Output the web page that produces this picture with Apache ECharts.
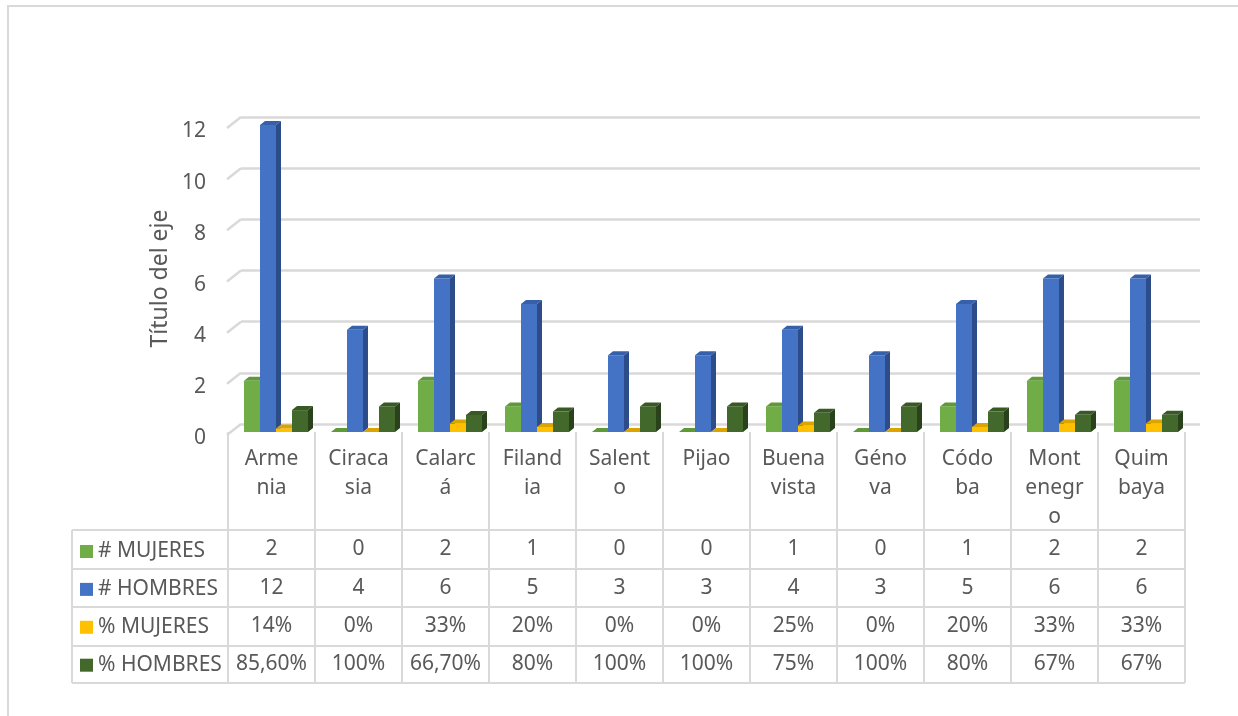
<!DOCTYPE html>
<html>
<head>
<meta charset="utf-8">
<script src="https://cdn.jsdelivr.net/npm/echarts@6/dist/echarts.min.js"></script>
<style>
html,body{margin:0;padding:0;background:#fff;}
#main{width:1238px;height:716px;}
</style>
</head>
<body>
<div id="main"></div>
<script>
// ---- data ----
const categoryLabels = ['Arme\nnia','Ciraca\nsia','Calarc\ná','Filand\nia','Salent\no','Pijao','Buena\nvista','Géno\nva','Códo\nba','Mont\nenegr\no','Quim\nbaya'];
const seriesNames = ['# MUJERES','# HOMBRES','% MUJERES','% HOMBRES'];
const mujeres = [2,0,2,1,0,0,1,0,1,2,2];
const hombres = [12,4,6,5,3,3,4,3,5,6,6];
const pctMujeres = [0.14,0,0.33,0.2,0,0,0.25,0,0.2,0.33,0.33];
const pctHombres = [0.856,1,0.667,0.8,1,1,0.75,1,0.8,0.67,0.67];
const pctMujeresText = ['14%','0%','33%','20%','0%','0%','25%','0%','20%','33%','33%'];
const pctHombresText = ['85,60%','100%','66,70%','80%','100%','100%','75%','100%','80%','67%','67%'];
const yTicks = {min:0, max:12, interval:2};

const FONT = 'Noto Sans';
const TXT = '#595959';
const LINE = '#d9d9d9';

const palette = [
  {front:'#70AD47', top:'#5e9a37', side:'#4b7a2c'},
  {front:'#4472C4', top:'#3760ab', side:'#2c4d8a'},
  {front:'#FFC000', top:'#dba400', side:'#b88a00'},
  {front:'#43682B', top:'#385824', side:'#2a421b'}
];
const allValues = [mujeres, hombres, pctMujeres, pctHombres];

function render3D(k) {
  const col = palette[k];
  return function (params, api) {
    const idx = api.value(0), v = api.value(1);
    const c = api.coord([idx, v]);
    const b = api.coord([idx, 0]);
    const bw = api.size([1, 0])[0];
    const x = c[0] - bw / 2 + bw * (16 + 16 * k) / 87;
    const w = bw * 16 / 87;
    const yT = c[1], yB = b[1];
    const dx = 5, dy = 4;
    return {
      type: 'group',
      children: [
        {type:'rect', shape:{x:x, y:yT, width:w, height:Math.max(0, yB - yT)}, style:{fill:col.front}},
        {type:'polygon', shape:{points:[[x,yT],[x+w,yT],[x+w+dx,yT-dy],[x+dx,yT-dy]]}, style:{fill:col.top}},
        {type:'polygon', shape:{points:[[x+w,yT],[x+w+dx,yT-dy],[x+w+dx,yB-dy],[x+w,yB]]}, style:{fill:col.side}}
      ]
    };
  };
}

const rowAxis = (data, offset) => ({
  type:'category', gridIndex:0, position:'bottom', offset:offset, data:data,
  axisLine:{show:false}, axisTick:{show:false}, splitLine:{show:false},
  axisLabel:{interval:0, margin:0, fontFamily:FONT, fontSize:21, lineHeight:21, color:TXT}
});

const chart = echarts.init(document.getElementById('main'), null, {renderer:'canvas'});
const option = {
  animation:false,
  backgroundColor:'#fff',
  grid:[
    {left:228, right:53, top:125, bottom:284},
    {left:241, right:38, top:117, bottom:292},
    {left:228, right:53, top:131.5, bottom:277.5}
  ],
  legend:{
    orient:'vertical', left:80, top:541, padding:0, itemWidth:13, itemHeight:13, itemGap:16.9,
    icon:'rect', selectedMode:false,
    data:seriesNames,
    textStyle:{fontFamily:FONT, fontSize:21, lineHeight:20, color:TXT}
  },
  xAxis:[
    {type:'category', gridIndex:0, data:categoryLabels, boundaryGap:true,
     axisLine:{show:false},
     axisTick:{show:true, length:251, lineStyle:{color:LINE, width:2}},
     axisLabel:{interval:0, margin:12.5, fontFamily:FONT, fontSize:21, lineHeight:29, color:TXT}},
    {type:'category', gridIndex:1, data:categoryLabels, show:false},
    rowAxis(mujeres.map(String), 106.5),
    rowAxis(hombres.map(String), 145.5),
    rowAxis(pctMujeresText, 183.5),
    rowAxis(pctHombresText, 221.5),
    {type:'category', gridIndex:2, data:categoryLabels, show:false}
  ],
  yAxis:[
    {type:'value', gridIndex:0, min:yTicks.min, max:yTicks.max, interval:yTicks.interval,
     axisLine:{show:false}, axisTick:{show:false}, splitLine:{show:false}, axisLabel:{show:false},
     name:'Título del eje', nameLocation:'middle', nameGap:56,
     nameTextStyle:{fontFamily:FONT, fontSize:23, color:TXT}},
    {type:'value', gridIndex:1, min:yTicks.min, max:yTicks.max, interval:yTicks.interval,
     axisLine:{show:false}, axisTick:{show:false}, axisLabel:{show:false},
     splitLine:{show:true, lineStyle:{color:LINE, width:2.5}}},
    {type:'value', gridIndex:2, min:yTicks.min, max:yTicks.max, interval:yTicks.interval,
     axisLine:{show:false}, axisTick:{show:false}, splitLine:{show:false},
     axisLabel:{margin:22, fontFamily:FONT, fontSize:21, color:TXT}}
  ],
  series: seriesNames.map((name, k) => ({
    name:name, type:'custom', xAxisIndex:0, yAxisIndex:0,
    itemStyle:{color:palette[k].front},
    renderItem: render3D(k),
    encode:{x:0, y:1},
    data: allValues[k].map((v, i) => [i, v])
  }))
};
chart.setOption(option);

// decorations computed from the library's scales
const g = [];
g.push({type:'rect', shape:{x:8, y:6, width:1400, height:900}, style:{fill:'none', stroke:LINE, lineWidth:2}, silent:true});
for (let v = yTicks.min; v <= yTicks.max; v += yTicks.interval) {
  const yf = chart.convertToPixel({yAxisIndex:0}, v);
  const yb = chart.convertToPixel({yAxisIndex:1}, v);
  g.push({type:'line', shape:{x1:227, y1:yf + 3, x2:241, y2:yb}, style:{stroke:LINE, lineWidth:2.5}, silent:true});
}
const x0 = chart.convertToPixel({xAxisIndex:0}, 0);
const xN = chart.convertToPixel({xAxisIndex:0}, categoryLabels.length - 1);
const band = (xN - x0) / (categoryLabels.length - 1);
const rightX = xN + band / 2;
const tableLeft = 72;
const rowLines = [530, 569, 607, 646, 683];
rowLines.forEach(y => g.push({type:'line', shape:{x1:tableLeft, y1:y, x2:rightX, y2:y}, style:{stroke:LINE, lineWidth:2}, silent:true}));
g.push({type:'line', shape:{x1:tableLeft, y1:rowLines[0], x2:tableLeft, y2:rowLines[rowLines.length-1]}, style:{stroke:LINE, lineWidth:2}, silent:true});
chart.setOption({graphic:g});
</script>
</body>
</html>
